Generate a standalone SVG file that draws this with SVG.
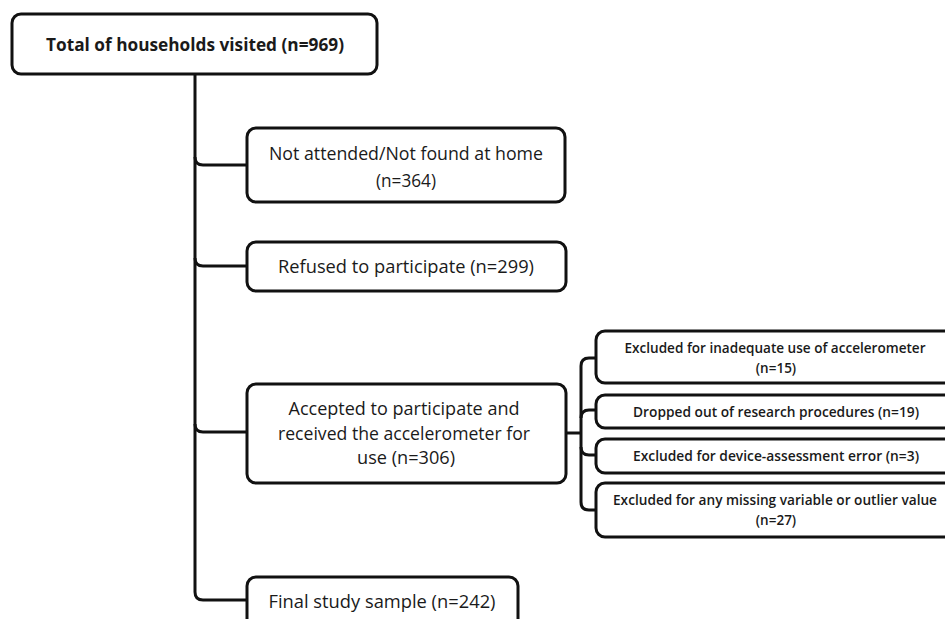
<svg xmlns="http://www.w3.org/2000/svg" width="945" height="619" viewBox="0 0 945 619">
<style>
.box{fill:#fff;stroke:#111;stroke-width:3}
.c{fill:none;stroke:#111;stroke-width:3;stroke-linejoin:round}
.t{font-family:"Open Sans","Noto Sans",sans-serif;font-size:17.5px;fill:#1a1a1a;text-anchor:middle;dominant-baseline:central}
.b{font-weight:bold;font-size:17px}
.s{font-family:"Open Sans","Noto Sans",sans-serif;font-size:13.5px;font-weight:600;fill:#1a1a1a;text-anchor:middle;dominant-baseline:central}
</style>
<rect width="945" height="619" fill="#fff"/>
<g id="connectors">
<path class="c" d="M195,74 V592 Q195,600 203,600 H247"/>
<path class="c" d="M195,157 Q195,165 203,165 H247"/>
<path class="c" d="M195,258 Q195,266 203,266 H247"/>
<path class="c" d="M195,424 Q195,432 203,432 H247"/>
<path class="c" d="M566,433 H581"/>
<path class="c" d="M596,358 H589 Q581,358 581,366 V502 Q581,510 589,510 H596"/>
<path class="c" d="M581,418 Q581,410 589,410 H596"/>
<path class="c" d="M581,447 Q581,455 589,455 H596"/>
</g>
<g id="n-total">
<rect class="box" x="12" y="14" width="365" height="60" rx="9"/>
<text class="t b" x="195" y="44" textLength="298" lengthAdjust="spacingAndGlyphs">Total of households visited (n=969)</text>
</g>
<g id="n-notattended">
<rect class="box" x="247" y="128" width="318" height="74" rx="9"/>
<text class="t" x="406" y="153" textLength="274" lengthAdjust="spacingAndGlyphs">Not attended/Not found at home</text>
<text class="t" x="406" y="180" textLength="60" lengthAdjust="spacingAndGlyphs">(n=364)</text>
</g>
<g id="n-refused">
<rect class="box" x="247" y="242" width="319" height="49" rx="9"/>
<text class="t" x="406" y="266" textLength="256" lengthAdjust="spacingAndGlyphs">Refused to participate (n=299)</text>
</g>
<g id="n-accepted">
<rect class="box" x="247" y="384" width="319" height="99" rx="9"/>
<text class="t" x="404" y="408" textLength="231" lengthAdjust="spacingAndGlyphs">Accepted to participate and</text>
<text class="t" x="404" y="433" textLength="252" lengthAdjust="spacingAndGlyphs">received the accelerometer for</text>
<text class="t" x="406" y="457" textLength="98" lengthAdjust="spacingAndGlyphs">use (n=306)</text>
</g>
<g id="n-final">
<rect class="box" x="247" y="577" width="271" height="60" rx="9"/>
<text class="t" x="382" y="601" textLength="227" lengthAdjust="spacingAndGlyphs">Final study sample (n=242)</text>
</g>
<g id="n-inadequate">
<rect class="box" x="596" y="331" width="370" height="52" rx="9"/>
<text class="s" x="775" y="348" textLength="301" lengthAdjust="spacingAndGlyphs">Excluded for inadequate use of accelerometer</text>
<text class="s" x="776" y="368">(n=15)</text>
</g>
<g id="n-dropped">
<rect class="box" x="596" y="395" width="370" height="33" rx="9"/>
<text class="s" x="776" y="412" textLength="286" lengthAdjust="spacingAndGlyphs">Dropped out of research procedures (n=19)</text>
</g>
<g id="n-device">
<rect class="box" x="596" y="439" width="370" height="34" rx="9"/>
<text class="s" x="776" y="456" textLength="286" lengthAdjust="spacingAndGlyphs">Excluded for device-assessment error (n=3)</text>
</g>
<g id="n-missing">
<rect class="box" x="596" y="483" width="370" height="54" rx="9"/>
<text class="s" x="775" y="500" textLength="324" lengthAdjust="spacingAndGlyphs">Excluded for any missing variable or outlier value</text>
<text class="s" x="776" y="520">(n=27)</text>
</g>
</svg>
